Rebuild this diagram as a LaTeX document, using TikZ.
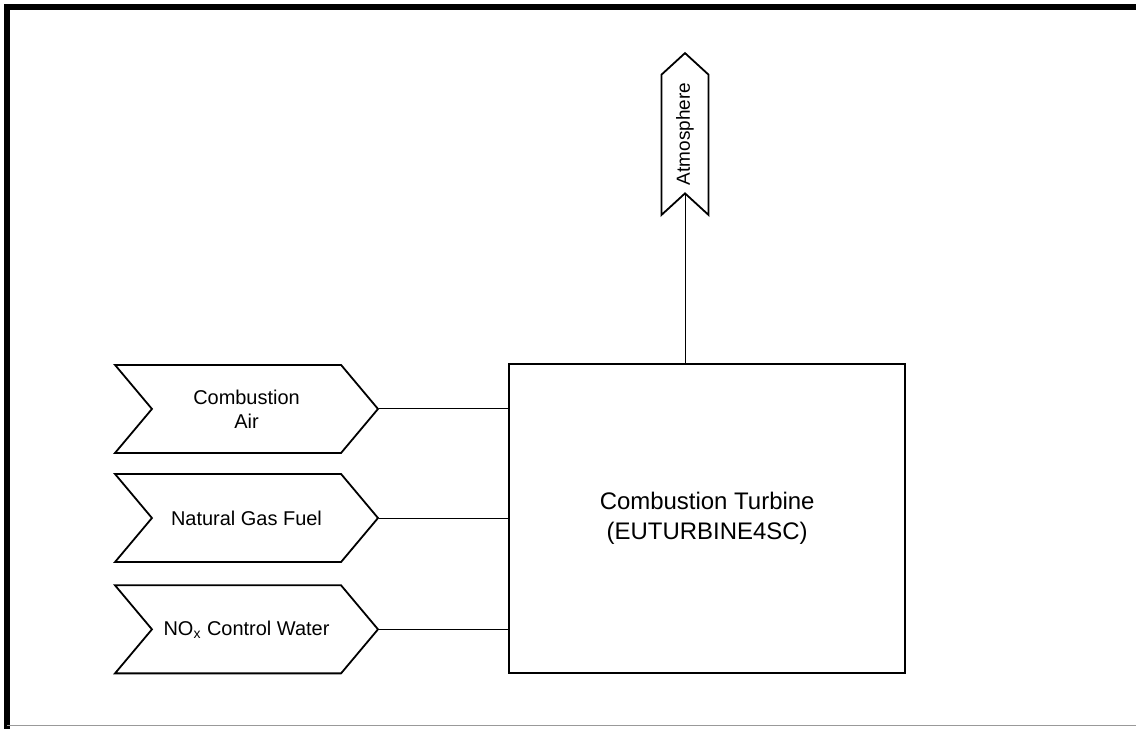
\documentclass[tikz,border=0pt]{standalone}
\usepackage{fontspec}
\setmainfont{Liberation Sans}
\usepackage{tikz}
\usetikzlibrary{shapes.symbols, positioning}

\begin{document}
\begin{tikzpicture}[
  unit/.style={draw=black, line width=0.9pt, minimum width=6.97cm,
               minimum height=5.44cm, align=center, font=\fontsize{12}{15}\selectfont},
  stream/.style={signal, draw=black, line width=0.9pt, signal to=east, signal from=west,
                 signal pointer angle=100, minimum width=4.63cm, minimum height=1.55cm,
                 inner sep=0pt, align=center, font=\fontsize{10}{12}\selectfont},
  vent/.style={signal, draw=black, line width=0.9pt, signal to=east, signal from=west,
               signal pointer angle=95, minimum width=2.85cm, minimum height=0.83cm,
               inner sep=0pt, rotate=90, font=\fontsize{9.5}{11}\selectfont},
  pipe/.style={draw=black, line width=0.5pt}
]
\useasboundingbox (0,0) rectangle (20,12.82);

% Frame
\draw[line width=3pt] (20.2,12.70) -- (0.13,12.70) -- (0.13,-0.1);
\draw[black!40, line width=0.6pt] (0.13,0.05) -- (20.2,0.05);

% Turbine
\node[unit] (ct) at (12.45,3.69) {Combustion Turbine\\(EUTURBINE4SC)};

% Inputs
\node[stream] (air) at (4.34,5.62) {Combustion\\Air};
\node[stream] (fuel) at (4.34,3.70) {Natural Gas Fuel};
\node[stream] (water) at (4.34,1.74) {NO\textsubscript{x} Control Water};

% Output
\node[vent] (atm) at (12.06,10.46) {Atmosphere};

% Connectors
\draw[pipe] (air.east) -- (air.east -| ct.west);
\draw[pipe] (fuel.east) -- (fuel.east -| ct.west);
\draw[pipe] (water.east) -- (water.east -| ct.west);
\draw[pipe] (atm.west) -- (atm.west |- ct.north);

\end{tikzpicture}
\end{document}
